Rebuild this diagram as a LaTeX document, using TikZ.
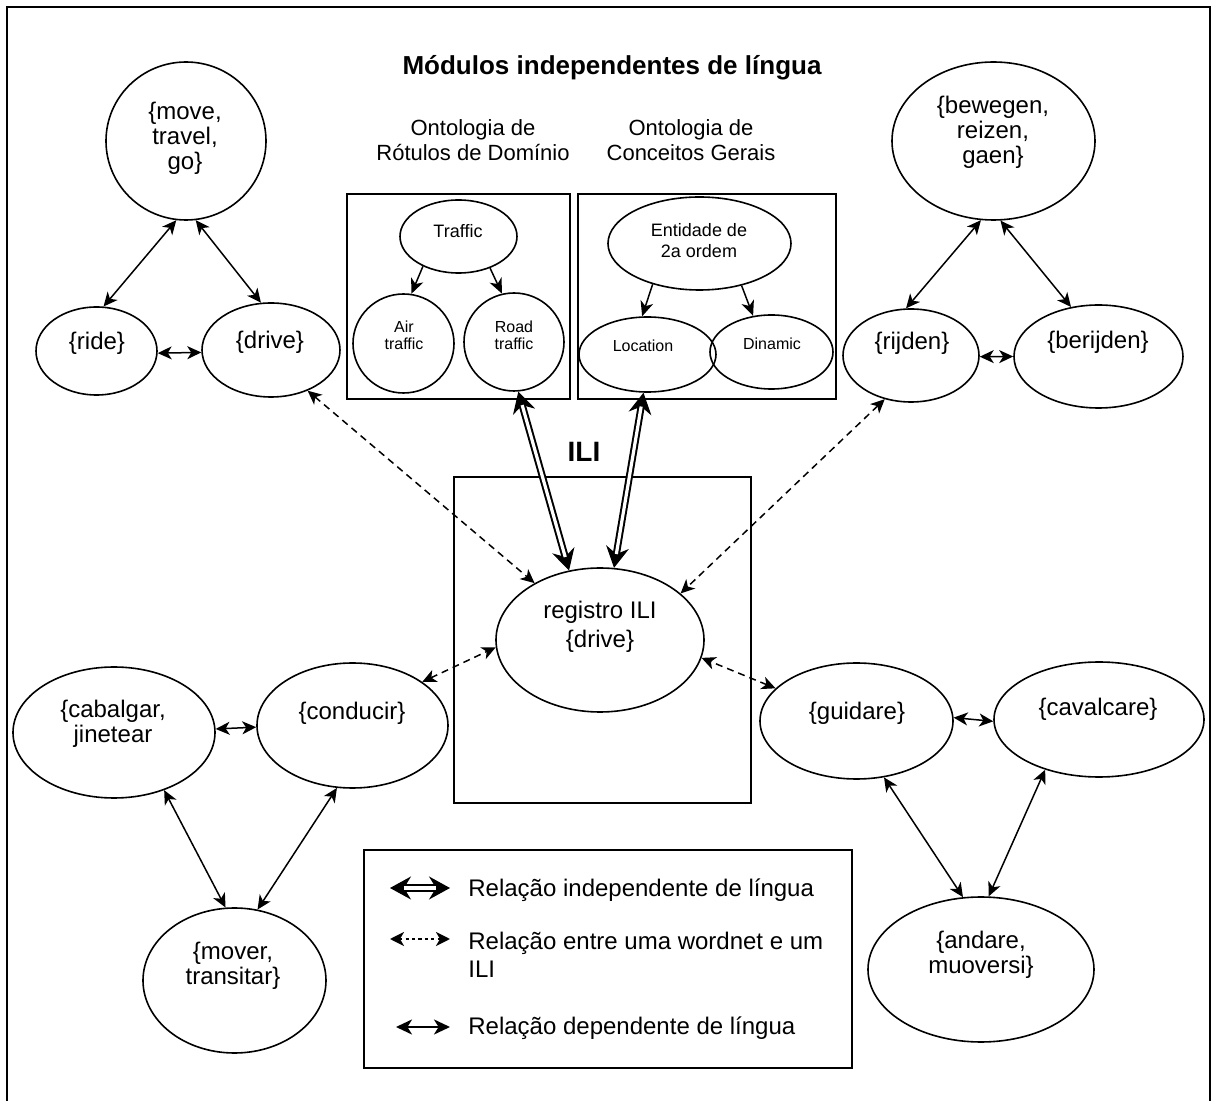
\documentclass[tikz,border=0pt]{standalone}
\usepackage{fontspec}
\setmainfont{Liberation Sans}
\usetikzlibrary{arrows.meta,shapes.geometric}
\begin{document}
\begin{tikzpicture}[x=0.5pt,y=-0.5pt,
  el/.style n args={2}{ellipse, draw, line width=0.8pt, inner sep=0pt,
    minimum width=#1pt, minimum height=#2pt},
  txt/.style={align=center, inner sep=0pt, font=\fontsize{12}{12.5}\selectfont},
  small/.style={align=center, inner sep=0pt, font=\fontsize{8}{8.5}\selectfont},
  mid/.style={align=center, inner sep=0pt, font=\fontsize{9}{10.5}\selectfont},
  head/.style={align=center, inner sep=0pt, font=\fontsize{11}{12.5}\selectfont},
  legtxt/.style={align=left, anchor=west, inner sep=0pt, font=\fontsize{12}{14}\selectfont},
  frame/.style={draw, line width=1pt},
  rel/.style={line width=0.75pt, {Stealth[length=7pt,width=6.5pt,inset=2pt]}-{Stealth[length=7pt,width=6.5pt,inset=2pt]}},
  wn/.style={rel, dash pattern=on 3.5pt off 2.5pt},
  isa/.style={line width=0.75pt, -{Stealth[length=7.5pt,width=6.5pt,inset=2.2pt]}},
  % heads of a language independent relation (thin core line, hidden under the double line)
  dbltips/.style={line width=0.6pt,
    {Stealth[length=10.5pt,width=11.5pt,inset=3.5pt]}-{Stealth[length=10.5pt,width=11.5pt,inset=3.5pt]}},
  % shaft of a language independent relation
  dblline/.style={line width=1pt, double, double distance=1.6pt,
    shorten <=7pt, shorten >=7pt},
]
\useasboundingbox (0,0) rectangle (1212,1101);

% outer frame
\draw[line width=1pt] (7,1101) -- (7,7) -- (1210,7) -- (1210,1101);

% titles
\node[inner sep=0pt, font=\fontsize{13}{15}\selectfont\bfseries] (title) at (612,68) {Módulos independentes de língua};
\node[head] (h1) at (473,140) {Ontologia de\\Rótulos de Domínio};
\node[head] (h2) at (691,140) {Ontologia de\\Conceitos Gerais};
\node[inner sep=0pt, font=\fontsize{14}{16}\selectfont\bfseries] (ili) at (584,452) {ILI};

% boxes
\draw[frame] (347,194) rectangle (570,399);
\draw[frame] (578,194) rectangle (836,399);
\draw[frame] (454,477) rectangle (751,803);
\draw[frame] (364,850) rectangle (852,1068);

% English wordnet
\node[el={80}{79}] (move) at (186,141) {};
\node[el={60.5}{44}] (ride) at (96.5,351) {};
\node[el={69}{47}] (drive) at (271,350) {};
\node[txt] (tmove) at (185,138) {\{move,\\travel,\\go\}};
\node[txt] (tride) at (97,343) {\{ride\}};
\node[txt] (tdrive) at (270,342) {\{drive\}};
\draw[rel] (move.263) -- (ride.81.6);
\draw[rel] (move.277) -- (drive.102.7);
\draw[rel] (ride.358) -- (drive.182);

% Dutch wordnet
\node[el={101.5}{79}] (bewegen) at (993.5,141) {};
\node[el={68}{46.5}] (rijden) at (911,355.5) {};
\node[el={84.5}{51.5}] (berijden) at (1098.5,356.5) {};
\node[txt] (tbewegen) at (993,132) {\{bewegen,\\reizen,\\gaen\}};
\node[txt] (trijden) at (912,343) {\{rijden\}};
\node[txt] (tberijden) at (1098,342) {\{berijden\}};
\draw[rel] (bewegen.261.3) -- (rijden.96.6);
\draw[rel] (bewegen.275.9) -- (berijden.119.7);
\draw[rel] (rijden.359) -- (berijden.180);

% Spanish wordnet
\node[el={101}{65.5}] (cabalgar) at (114,732.5) {};
\node[el={95.5}{62.5}] (conducir) at (352.5,725.5) {};
\node[el={91.5}{72.5}] (mover) at (234.5,980.5) {};
\node[txt] (tcabalgar) at (113,724) {\{cabalgar,\\jinetear};
\node[txt] (tconducir) at (352,713) {\{conducir\}};
\node[txt] (tmover) at (233,966) {\{mover,\\transitar\}};
\draw[rel] (cabalgar.2.6) -- (conducir.181.5);
\draw[rel] (cabalgar.311.2) -- (mover.97.5);
\draw[rel] (conducir.256.5) -- (mover.72.5);

% Italian wordnet
\node[el={96.5}{58}] (guidare) at (856.5,721) {};
\node[el={105}{57.5}] (cavalcare) at (1099,719.5) {};
\node[el={113}{72.5}] (andare) at (981,969.5) {};
\node[txt] (tguidare) at (857,713) {\{guidare\}};
\node[txt] (tcavalcare) at (1098,709) {\{cavalcare\}};
\node[txt] (tandare) at (981,955) {\{andare,\\muoversi\}};
\draw[rel] (guidare.2.4) -- (cavalcare.181.4);
\draw[rel] (guidare.296.6) -- (andare.104.3);
\draw[rel] (cavalcare.223.2) -- (andare.84.6);

% domain labels ontology
\node[el={58.5}{36.5}] (traffic) at (458.5,236.5) {};
\node[el={50.5}{49.5}] (air) at (403.5,343.5) {};
\node[el={50}{49}] (road) at (514,342) {};
\node[mid] (ttraffic) at (458,231) {Traffic};
\node[small] (tair) at (404,335) {Air\\traffic};
\node[small] (troad) at (514,335) {Road\\traffic};
\draw[isa] (traffic.220) -- (air.81.2);
\draw[isa] (traffic.315) -- (road.104.3);

% top concept ontology
\node[el={91.5}{46.5}] (entidade) at (699.5,243.5) {};
\node[el={68.5}{37.5}] (location) at (647.5,354.5) {};
\node[el={61.5}{37}] (dinamic) at (771.5,352) {};
\node[mid] (tentidade) at (699,241) {Entidade de\\2a ordem};
\node[small] (tlocation) at (643,346) {Location};
\node[small] (tdinamic) at (772,344) {Dinamic};
\draw[isa] (entidade.221.1) -- (location.98.3);
\draw[isa] (entidade.315) -- (dinamic.117.8);

% ILI record
\node[el={104}{72}] (registro) at (600,640) {};
\node[txt, font=\fontsize{12}{14.5}\selectfont] (tregistro) at (600,627) {registro ILI\\\{drive\}};

% language independent relations
\draw[dbltips] (road.275.8) -- (registro.114.9);
\draw[dblline] (road.275.8) -- (registro.114.9);
\draw[dbltips] (location.264.7) -- (registro.79.6);
\draw[dblline] (location.264.7) -- (registro.79.6);

% wordnet to ILI relations
\draw[wn] (drive.312) -- (registro.139.6);
\draw[wn] (rijden.239) -- (registro.30.3);
\draw[wn] (conducir.32.4) -- (registro.184.8);
\draw[wn] (guidare.158) -- (registro.350.6);

% legend
\coordinate (l1a) at (390,888);
\coordinate (l1b) at (450,888);
\coordinate (l2a) at (390,939);
\coordinate (l2b) at (450,939);
\coordinate (l3a) at (396,1027);
\coordinate (l3b) at (450,1027);
\draw[dbltips] (l1a) -- (l1b);
\draw[dblline] (l1a) -- (l1b);
\draw[line width=1.2pt, dash pattern=on 1.6pt off 1.6pt,
  {Stealth[length=7pt,width=7pt,inset=2pt]}-{Stealth[length=7pt,width=7pt,inset=2pt]}] (l2a) -- (l2b);
\draw[line width=1.2pt,
  {Stealth[length=8pt,width=7.5pt,inset=2.3pt]}-{Stealth[length=8pt,width=7.5pt,inset=2.3pt]}] (l3a) -- (l3b);
\node[legtxt] (leg1) at (468,890) {Relação independente de língua};
\node[legtxt] (leg2) at (468,955) {Relação entre uma wordnet e um\\ILI};
\node[legtxt] (leg3) at (468,1028) {Relação dependente de língua};
\end{tikzpicture}
\end{document}
